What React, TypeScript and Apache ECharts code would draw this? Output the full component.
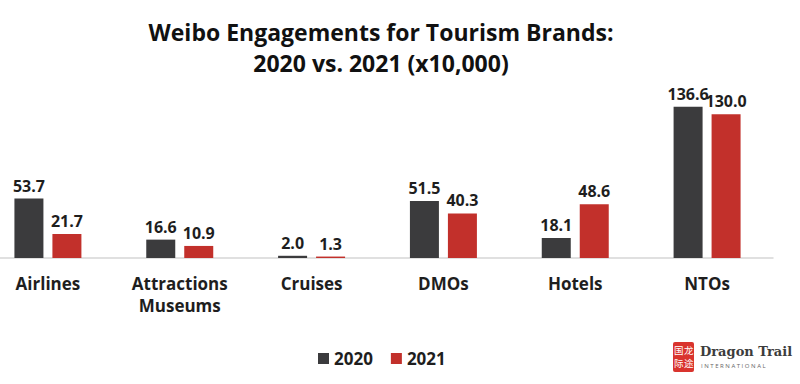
import React, { useEffect, useRef } from "react";
import * as echarts from "echarts";

const categories = ["Airlines", "Attractions\nMuseums", "Cruises", "DMOs", "Hotels", "NTOs"];
const values2020 = [53.7, 16.6, 2.0, 51.5, 18.1, 136.6];
const values2021 = [21.7, 10.9, 1.3, 40.3, 48.6, 130.0];
const seriesNames = ["2020", "2021"];

const FONT = "'Open Sans', 'DejaVu Sans', sans-serif";
const DARK = "#3b3b3d";
const RED = "#c2302b";
const SHIFT = 18;

export default function App() {
  const ref = useRef<HTMLDivElement>(null);
  useEffect(() => {
    if (!ref.current) return;
    const chart = echarts.init(ref.current, null, { renderer: "svg" });
    const label = {
      show: true,
      position: "top" as const,
      distance: 5,
      fontFamily: FONT,
      fontWeight: "bold" as const,
      fontSize: 16,
      color: "#1e1e1e",
      formatter: (p: any) => Number(p.value).toFixed(1),
    };
    const cjk = { fill: "#fff", fontSize: 9.5, fontFamily: "'Noto Sans CJK SC'" };
    chart.setOption({
      animation: false,
      backgroundColor: "#ffffff",
      title: {
        text: "Weibo Engagements for Tourism Brands:\n2020 vs. 2021 (x10,000)",
        left: 376 + SHIFT,
        top: 11,
        textAlign: "center",
        textStyle: {
          fontFamily: FONT,
          fontWeight: "bold",
          fontSize: 23,
          lineHeight: 31,
          color: "#111111",
        },
      },
      legend: {
        data: seriesNames,
        left: 313 + SHIFT,
        top: 345,
        itemWidth: 11,
        itemHeight: 11,
        itemGap: 18,
        icon: "rect",
        textStyle: { fontFamily: FONT, fontWeight: "bold", fontSize: 17, color: "#1e1e1e" },
      },
      grid: { left: 0, right: 27, top: 92, bottom: 126, containLabel: false },
      xAxis: {
        type: "category",
        data: categories,
        axisLine: { show: true, lineStyle: { color: "#d6d6d6", width: 1.5 } },
        axisTick: { show: false },
        axisLabel: {
          fontFamily: FONT,
          fontWeight: "bold",
          fontSize: 17,
          color: "#1e1e1e",
          margin: 14,
          lineHeight: 22,
          interval: 0,
        },
      },
      yAxis: {
        type: "value",
        min: 0,
        max: 150,
        show: false,
        splitLine: { show: false },
      },
      series: [
        {
          name: seriesNames[0],
          type: "bar",
          data: values2020,
          barWidth: 29,
          barGap: "31%",
          itemStyle: { color: DARK },
          label,
        },
        {
          name: seriesNames[1],
          type: "bar",
          data: values2021,
          barWidth: 29,
          itemStyle: { color: RED },
          label,
        },
      ],
      graphic: [
        {
          type: "group",
          left: 673 + SHIFT,
          top: 342,
          children: [
            { type: "rect", shape: { x: 0, y: 0, width: 21, height: 30, r: 2 }, style: { fill: "#d9342e" } },
            { type: "text", x: 1, y: 3, style: { text: "国", ...cjk } },
            { type: "text", x: 11, y: 3, style: { text: "龙", ...cjk } },
            { type: "text", x: 1, y: 16, style: { text: "际", ...cjk } },
            { type: "text", x: 11, y: 16, style: { text: "途", ...cjk } },
            { type: "text", x: 27, y: 3, style: { text: "Dragon Trail", fill: "#3c3c3c", fontSize: 13, fontWeight: "bold", fontFamily: "'DejaVu Serif', serif" } },
            { type: "text", x: 28, y: 21, style: { text: "I N T E R N A T I O N A L", fill: "#666", fontSize: 6, fontFamily: FONT } },
          ],
        },
      ],
    });
    return () => chart.dispose();
  }, []);
  return <div ref={ref} style={{ width: 800 + SHIFT, height: 384, position: "absolute", left: -SHIFT, top: 0 }} />;
}
